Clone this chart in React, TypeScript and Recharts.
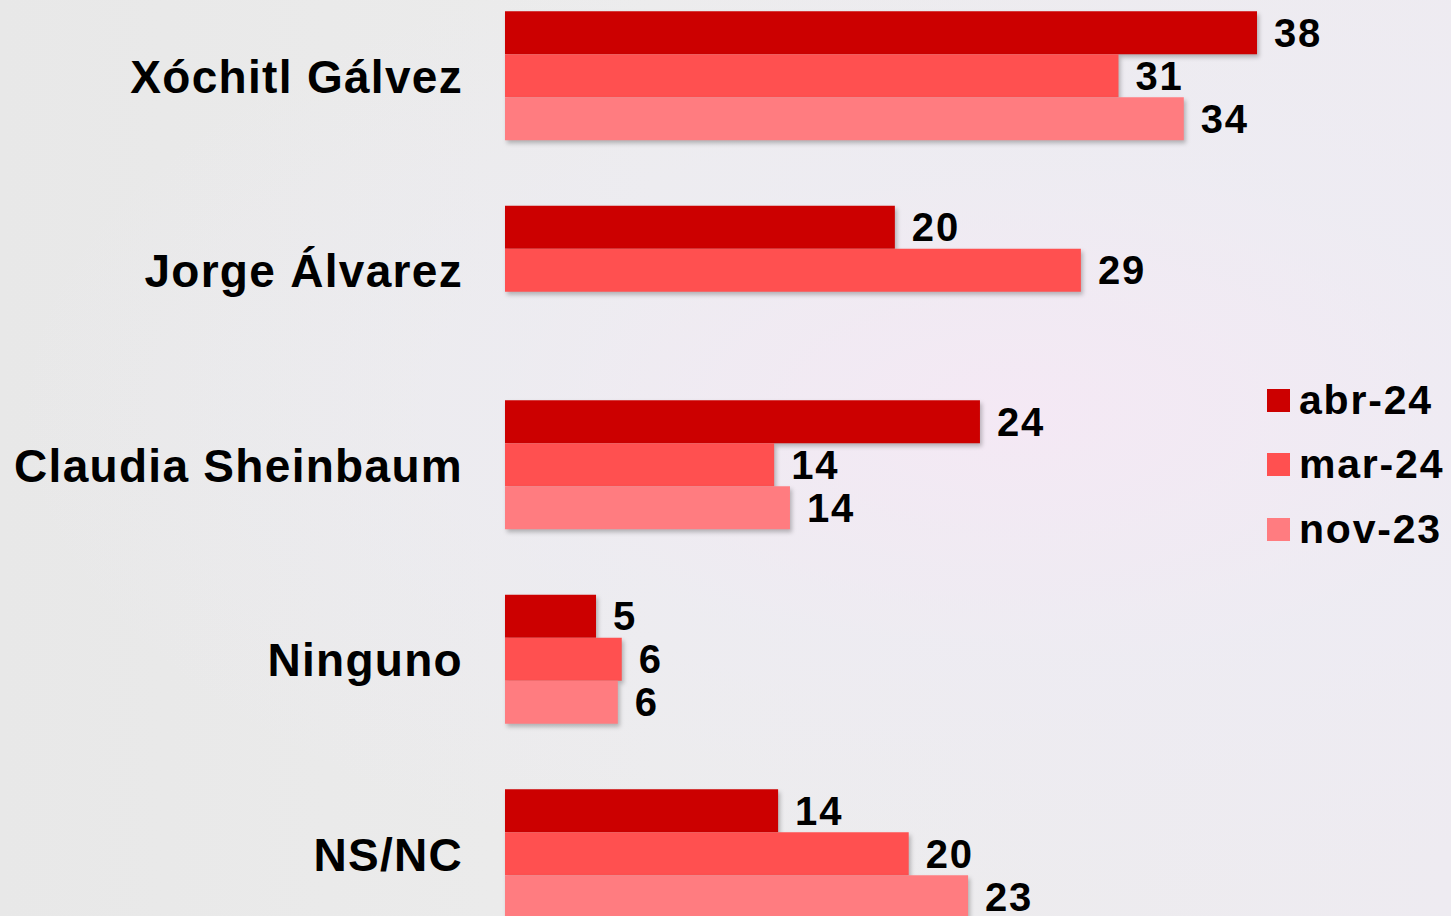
import { BarChart, Bar, XAxis, YAxis, LabelList, Legend } from 'recharts';

const categories = ['Xóchitl Gálvez', 'Jorge Álvarez', 'Claudia Sheinbaum', 'Ninguno', 'NS/NC'];
const abr24 = [38.0, 19.7, 24.0, 4.6, 13.8];
const mar24 = [31.0, 29.1, 13.6, 5.9, 20.4];
const nov23 = [34.3, null, 14.4, 5.7, 23.4];

const seriesNames = ['abr-24', 'mar-24', 'nov-23'];
const seriesColors = ['#CC0000', '#FF5050', '#FF7C80'];

const chartData = categories.map((name, i) => ({
  name,
  abr: abr24[i],
  mar: mar24[i],
  nov: nov23[i],
}));

const FONT = '"Liberation Sans", Arial, sans-serif';
const SHIFT = 21.25;

const fmt = (v: any) => (v == null ? '' : Math.round(Number(v)));

function LegendBox({ payload }: any) {
  return (
    <div style={{ fontFamily: FONT, fontWeight: 700 }}>
      {(payload || []).map((p: any) => (
        <div key={p.value} style={{ height: 64.5, display: 'flex', alignItems: 'center' }}>
          <span style={{ width: 23, height: 23, background: p.color, display: 'inline-block', marginRight: 9 }} />
          <span style={{ fontSize: 41, letterSpacing: 1.8, color: '#000', lineHeight: 1 }}>{p.value}</span>
        </div>
      ))}
    </div>
  );
}

export default function App() {
  const keys = ['abr', 'mar', 'nov'];
  return (
    <div
      style={{
        position: 'fixed',
        left: 0,
        top: 0,
        width: 1451,
        height: 916,
        overflow: 'hidden',
        background:
          'radial-gradient(ellipse at 70% 45%, rgba(245,232,245,0.9) 0%, rgba(238,236,244,0.6) 35%, rgba(233,233,233,0) 70%), linear-gradient(90deg, #E8E8E8 0%, #ECECEC 45%, #EEEBF1 100%)',
      }}
    >
      <style>{`.recharts-bar-rectangle path { filter: drop-shadow(2px 3px 2px rgba(0,0,0,0.25)); }`}</style>
      <div style={{ position: 'absolute', left: 0, top: -SHIFT }}>
        <BarChart
          width={1451}
          height={972.5}
          data={chartData}
          layout="vertical"
          margin={{ top: 0, right: 154.4, bottom: 0, left: 0 }}
          barCategoryGap={32.25}
          barGap={0}
        >
          <XAxis type="number" domain={[0, 40]} hide />
          <YAxis
            type="category"
            dataKey="name"
            width={505}
            axisLine={false}
            tickLine={false}
            tickSize={0}
            tickMargin={42}
            tick={{ fontFamily: FONT, fontWeight: 700, fontSize: 46, letterSpacing: 1.3, fill: '#000' }}
            interval={0}
          />
          <Legend
            layout="vertical"
            align="center"
            verticalAlign="middle"
            content={<LegendBox />}
            wrapperStyle={{ left: 1267, top: 367.75 + SHIFT, width: 184 }}
          />
          {keys.map((k, i) => (
            <Bar key={k} dataKey={k} name={seriesNames[i]} fill={seriesColors[i]} isAnimationActive={false}>
              <LabelList
                dataKey={k}
                position="right"
                offset={17}
                formatter={fmt}
                style={{ fontFamily: FONT, fontWeight: 700, fontSize: 40, letterSpacing: 1.8, fill: '#000' }}
              />
            </Bar>
          ))}
        </BarChart>
      </div>
    </div>
  );
}
